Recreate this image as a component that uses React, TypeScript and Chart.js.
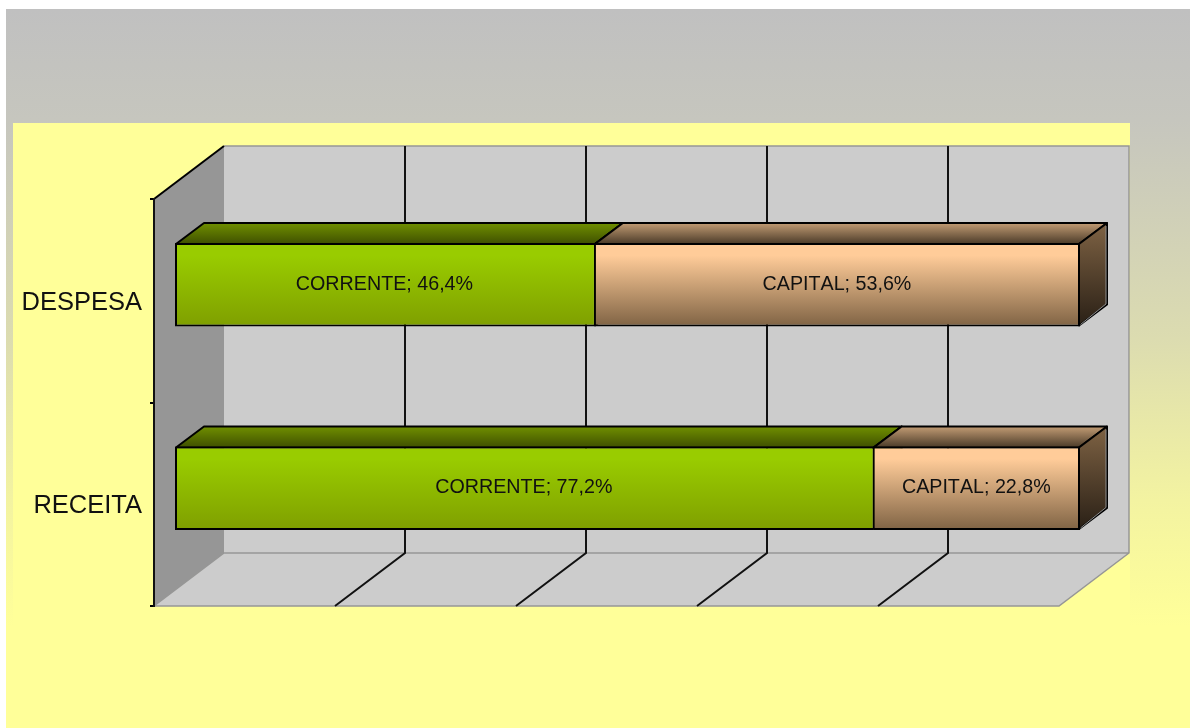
import React, { useEffect, useRef } from "react";
import { Chart, registerables } from "chart.js";

Chart.register(...registerables);

const categories = ["DESPESA", "RECEITA"];
const correnteValues = [46.4, 77.2];
const capitalValues = [53.6, 22.8];
const xTicks = [0, 20, 40, 60, 80, 100];

const FONT = '"Liberation Sans", Arial, sans-serif';
const WALL_DX = 70;
const WALL_DY = -53;
const SHIFT_DX = 21;
const SHIFT_DY = -16;
const BAR_DX = 28;
const BAR_DY = -21;
const BAR_SHARE = 0.41;

type Palette = { front: [string, string]; top: [string, string]; side: [string, string] };
const greenPalette: Palette = {
  front: ["#99cc00", "#7f9f00"],
  top: ["#708f00", "#3f5000"],
  side: ["#4c6600", "#263300"],
};
const tanPalette: Palette = {
  front: ["#ffcc99", "#7f6344"],
  top: ["#c29c74", "#4a3a28"],
  side: ["#7f6344", "#2a2016"],
};

function grad(ctx: CanvasRenderingContext2D, y0: number, y1: number, c: [string, string], hold = 0) {
  const g = ctx.createLinearGradient(0, y0, 0, y1);
  g.addColorStop(0, c[0]);
  if (hold) g.addColorStop(hold, c[0]);
  g.addColorStop(1, c[1]);
  return g;
}

function poly(ctx: CanvasRenderingContext2D, pts: number[][], fill: any, stroke?: string, lw = 2) {
  ctx.beginPath();
  pts.forEach((p, i) => (i ? ctx.lineTo(p[0], p[1]) : ctx.moveTo(p[0], p[1])));
  ctx.closePath();
  ctx.fillStyle = fill;
  ctx.fill();
  if (stroke) {
    ctx.strokeStyle = stroke;
    ctx.lineWidth = lw;
    ctx.lineJoin = "round";
    ctx.stroke();
  }
}

function line(ctx: CanvasRenderingContext2D, pts: number[][], color: string, lw: number) {
  ctx.beginPath();
  pts.forEach((p, i) => (i ? ctx.lineTo(p[0], p[1]) : ctx.moveTo(p[0], p[1])));
  ctx.strokeStyle = color;
  ctx.lineWidth = lw;
  ctx.stroke();
}

const stagePlugin = {
  id: "stage",
  beforeDraw(chart: any) {
    const { ctx, chartArea: a, scales } = chart;
    const W = chart.width;
    const H = chart.height;
    ctx.save();
    ctx.fillStyle = "#ffffff";
    ctx.fillRect(0, 0, W, H);
    const bg = ctx.createLinearGradient(0, 9, 0, 627);
    bg.addColorStop(0, "#c0c0c0");
    bg.addColorStop(0.18, "#c6c6be");
    bg.addColorStop(0.535, "#dcdcb0");
    bg.addColorStop(0.665, "#e8e8a8");
    bg.addColorStop(0.795, "#f3f3a1");
    bg.addColorStop(1, "#ffff99");
    ctx.fillStyle = bg;
    ctx.fillRect(6, 9, W - 6, H - 9);
    ctx.fillStyle = "#ffff99";
    ctx.fillRect(13, 123, 1117, 510);
    ctx.fillRect(6, 627, W - 6, H - 627);

    const l = a.left, r = a.right, t = a.top, b = a.bottom;
    poly(ctx, [[l + WALL_DX, t + WALL_DY], [r + WALL_DX, t + WALL_DY], [r + WALL_DX, b + WALL_DY], [l + WALL_DX, b + WALL_DY]], "#cccccc");
    poly(ctx, [[l, t], [l + WALL_DX, t + WALL_DY], [l + WALL_DX, b + WALL_DY], [l, b]], "#969696");
    poly(ctx, [[l, b], [l + WALL_DX, b + WALL_DY], [r + WALL_DX, b + WALL_DY], [r, b]], "#cccccc");
    line(ctx, [[l + WALL_DX, t + WALL_DY], [r + WALL_DX, t + WALL_DY], [r + WALL_DX, b + WALL_DY], [r, b], [l, b], [l + WALL_DX, b + WALL_DY], [r + WALL_DX, b + WALL_DY]], "#969696", 1.5);
    xTicks.slice(1, -1).forEach((v) => {
      const x = scales.x.getPixelForValue(v);
      line(ctx, [[x, b], [x + WALL_DX, b + WALL_DY], [x + WALL_DX, t + WALL_DY]], "#111111", 2);
    });
    line(ctx, [[l, t], [l + WALL_DX, t + WALL_DY]], "#000000", 2);
    ctx.restore();
  },
  beforeDatasetsDraw(chart: any) {
    const { ctx } = chart;
    ctx.save();
    ctx.translate(SHIFT_DX, SHIFT_DY);
    chart.data.datasets.forEach((ds: any, di: number) => {
      const pal: Palette = ds.palette;
      chart.getDatasetMeta(di).data.forEach((el: any) => {
        const p = el.getProps(["x", "y", "base", "height"], true);
        const x0 = di === 0 ? p.base + 1 : p.base;
        const x1 = di === 0 ? p.x : p.x - 1;
        const y0 = p.y - p.height / 2 + 1, y1 = p.y + p.height / 2 - 1;
        poly(ctx, [[x0, y0], [x0 + BAR_DX, y0 + BAR_DY], [x1 + BAR_DX, y0 + BAR_DY], [x1, y0]],
          grad(ctx, y0 + BAR_DY, y0, pal.top), "#000000", 2);
        poly(ctx, [[x1, y0], [x1 + BAR_DX, y0 + BAR_DY], [x1 + BAR_DX, y1 + BAR_DY], [x1, y1]],
          grad(ctx, y0 + BAR_DY, y1, pal.side), "#000000", 2);
        if (di === 1) {
          line(ctx, [[x1 + 1.5, y1 - 1], [x1 + BAR_DX - 1, y1 + BAR_DY - 0.5], [x1 + BAR_DX - 1, y0 + BAR_DY + 3]], "#8f8f8f", 1);
        }
      });
    });
  },
  afterDatasetsDraw(chart: any) {
    const { ctx } = chart;
    ctx.fillStyle = "#111111";
    ctx.font = `19.7px ${FONT}`;
    (ctx as any).fontKerning = "none";
    ctx.textAlign = "center";
    ctx.textBaseline = "middle";
    chart.data.datasets.forEach((ds: any, di: number) => {
      chart.getDatasetMeta(di).data.forEach((el: any, i: number) => {
        const p = el.getProps(["x", "y", "base"], true);
        const text = `${ds.label}; ${ds.data[i].toFixed(1).replace(".", ",")}%`;
        ctx.fillText(text, (p.x + p.base) / 2 - 0.5, p.y - 0.5);
      });
    });
    ctx.restore();
  },
};

function barFill(palette: Palette) {
  return (c: any) => {
    const s = c.chart.scales.y;
    if (!s || c.dataIndex === undefined) return palette.front[0];
    const yc = s.getPixelForValue(c.dataIndex);
    if (!Number.isFinite(yc)) return palette.front[0];
    const h = (s.height / categories.length) * BAR_SHARE;
    return grad(c.chart.ctx, yc - h / 2, yc + h / 2, palette.front, 0.15);
  };
}

export default function App() {
  const ref = useRef<HTMLCanvasElement>(null);
  useEffect(() => {
    const chart = new Chart(ref.current!, {
      type: "bar",
      data: {
        labels: categories,
        datasets: [
          {
            label: "CORRENTE",
            data: correnteValues,
            palette: greenPalette,
            backgroundColor: barFill(greenPalette),
            borderColor: "#000000",
            borderWidth: { top: 2, bottom: 2, left: 2, right: 1 },
            borderSkipped: false,
            clip: false,
            barPercentage: BAR_SHARE,
            categoryPercentage: 1,
          },
          {
            label: "CAPITAL",
            data: capitalValues,
            palette: tanPalette,
            backgroundColor: barFill(tanPalette),
            borderColor: "#000000",
            borderWidth: { top: 2, bottom: 2, left: 1, right: 2 },
            borderSkipped: false,
            clip: false,
            barPercentage: BAR_SHARE,
            categoryPercentage: 1,
          },
        ] as any,
      },
      options: {
        indexAxis: "y",
        responsive: false,
        animation: false,
        layout: { padding: { left: 0, top: 199, right: 131, bottom: 122 } },
        plugins: { legend: { display: false }, tooltip: { enabled: false }, title: { display: false } },
        scales: {
          x: {
            stacked: true,
            min: 0,
            max: 100,
            afterBuildTicks: (s: any) => {
              s.ticks = xTicks.map((value) => ({ value }));
            },
            afterFit: (s: any) => {
              s.height = 0;
            },
            grid: { display: false },
            border: { display: false },
            ticks: { display: false },
          },
          y: {
            stacked: true,
            afterFit: (s: any) => {
              s.width = 154;
            },
            grid: { drawOnChartArea: false, drawTicks: true, tickLength: 4, color: "#000000", lineWidth: 2, offset: true },
            border: { display: true, color: "#111111", width: 2 },
            ticks: { color: "#111111", padding: 8, labelOffset: 2, font: { family: FONT, size: 25.5 } },
          },
        },
      } as any,
      plugins: [stagePlugin as any],
    });
    return () => chart.destroy();
  }, []);
  return (
    <canvas
      ref={ref}
      width={1190}
      height={728}
      style={{ position: "absolute", left: 0, top: 0, display: "block", width: 1190, height: 728 }}
    />
  );
}
